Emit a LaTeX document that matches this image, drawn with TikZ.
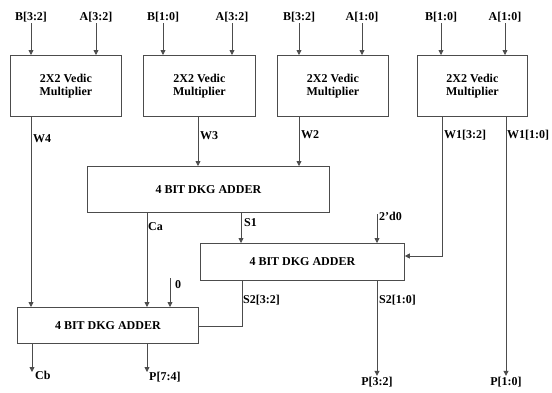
\documentclass[tikz,border=0pt]{standalone}
\usepackage{fontspec}
\setmainfont{Liberation Serif}
\usetikzlibrary{arrows.meta}
\begin{document}
\begin{tikzpicture}[x=1pt,y=-1pt,
  font=\fontsize{12}{13}\selectfont\bfseries,
  box/.style={draw=black!70, line width=0.8pt, inner sep=0pt, anchor=north west, align=center},
  wire/.style={draw=black!70, line width=0.8pt},
  arr/.style={wire, -{Triangle[width=5pt,length=5pt]}},
  lbl/.style={inner sep=1pt}]
\useasboundingbox (0,0) rectangle (552,392);
% multipliers
\node[box, minimum width=111pt, minimum height=61pt] (m1) at (10,55) {2X2 Vedic\\Multiplier};
\node[box, minimum width=112pt, minimum height=61pt] (m2) at (143,55) {2X2 Vedic\\Multiplier};
\node[box, minimum width=111pt, minimum height=61pt] (m3) at (277,55) {2X2 Vedic\\Multiplier};
\node[box, minimum width=110pt, minimum height=61pt] (m4) at (417,55) {2X2 Vedic\\Multiplier};
% adders
\node[box, minimum width=242pt, minimum height=46pt] (a1) at (87,166) {4 BIT DKG ADDER};
\node[box, minimum width=204pt, minimum height=37pt] (a2) at (200,243) {4 BIT DKG ADDER};
\node[box, minimum width=181pt, minimum height=36pt] (a3) at (17,307) {4 BIT DKG ADDER};
% input labels
\node[lbl] (b1) at (31,17) {B[3:2]};
\node[lbl] (i1) at (96,17) {A[3:2]};
\node[lbl] (b2) at (163,17) {B[1:0]};
\node[lbl] (i2) at (232,17) {A[3:2]};
\node[lbl] (b3) at (299,17) {B[3:2]};
\node[lbl] (i3) at (362,17) {A[1:0]};
\node[lbl] (b4) at (441,17) {B[1:0]};
\node[lbl] (i4) at (505,17) {A[1:0]};
\foreach \n in {b1,i1,b2,i2,b3,i3,b4,i4}{
  \draw[arr] (\n.south) -- (\n.south |- m1.north);
}
% wire labels
\node[lbl, anchor=west] (w4) at (32,139) {W4};
\node[lbl, anchor=west] (w3) at (199,136) {W3};
\node[lbl, anchor=west] (w2) at (300,135) {W2};
\node[lbl, anchor=west] (w1h) at (443,135) {W1[3:2]};
\node[lbl, anchor=west] (w1l) at (506,135) {W1[1:0]};
\node[lbl, anchor=west] (ca) at (147,227) {Ca};
\node[lbl, anchor=west] (s1) at (243,223) {S1};
\node[lbl, anchor=west] (k2) at (378,216) {2'd0};
\node[lbl, anchor=west] (s2h) at (242,300) {S2[3:2]};
\node[lbl, anchor=west] (s2l) at (378,300) {S2[1:0]};
\node[lbl, anchor=west] (k0) at (174,285) {0};
% output labels
\node[lbl, anchor=west] (cb) at (34,375) {Cb};
\node[lbl, anchor=west] (p74) at (148,377) {P[7:4]};
\node[lbl] (p32) at (377,382) {P[3:2]};
\node[lbl] (p10) at (506,382) {P[1:0]};
\coordinate (k2s) at (377,214);
\coordinate (k0s) at (170,278);
\coordinate (w1c) at (442,256);
\coordinate (s2c) at (242,326);
\coordinate (cbe) at (32,372);
\coordinate (p74e) at (147,372);
% connections
\draw[arr] (31,0 |- m1.south) -- (31,0 |- a3.north);
\draw[arr] (198,0 |- m2.south) -- (198,0 |- a1.north);
\draw[arr] (299,0 |- m3.south) -- (299,0 |- a1.north);
\draw[arr] (w1c |- m4.south) -- (w1c) -- (w1c -| a2.east);
\draw[arr] (p10 |- m4.south) -- (p10.north);
\draw[arr] (147,0 |- a1.south) -- (147,0 |- a3.north);
\draw[arr] (241,0 |- a1.south) -- (241,0 |- a2.north);
\draw[arr] (k2s) -- (k2s |- a2.north);
\draw[wire] (s2c |- a2.south) -- (s2c) -- (s2c -| a3.east);
\draw[arr] (p32 |- a2.south) -- (p32.north);
\draw[arr] (k0s) -- (k0s |- a3.north);
\draw[arr] (cbe |- a3.south) -- (cbe);
\draw[arr] (p74e |- a3.south) -- (p74e);
\end{tikzpicture}
\end{document}
